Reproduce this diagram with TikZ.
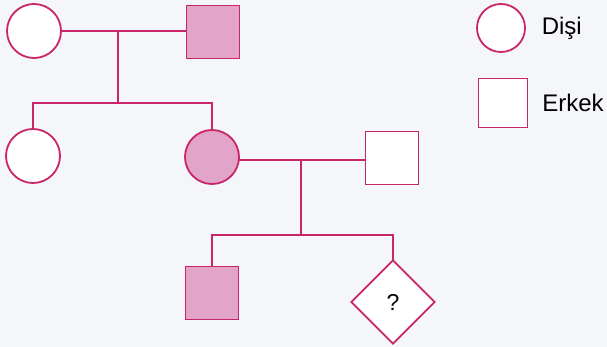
\documentclass[tikz,border=0pt]{standalone}
\usepackage{fontspec}
\setmainfont{Liberation Sans}
\usetikzlibrary{positioning,shapes.geometric}
\definecolor{pedline}{RGB}{200,38,104}
\definecolor{pedfill}{RGB}{226,164,200}
\definecolor{paper}{RGB}{244,246,249}

\begin{document}
\begin{tikzpicture}[x=1pt,y=-1pt,line width=1.8pt,
  fem/.style={draw=pedline,circle,minimum size=54pt,inner sep=0pt,fill=white},
  mal/.style={draw=pedline,rectangle,minimum size=53pt,inner sep=0pt,fill=white},
  unk/.style={draw=pedline,diamond,minimum size=84pt,inner sep=0pt,fill=white,font=\fontsize{23}{26}\selectfont},
  aff/.style={fill=pedfill},
  ln/.style={draw=pedline,line cap=rect},
  lbl/.style={inner sep=0pt,font=\fontsize{24}{27}\selectfont}]
\fill[paper] (0,0) rectangle (607,347);
\useasboundingbox (0,0) rectangle (607,347);
% generation I
\node[fem] (gm) at (34,31) {};
\node[mal,aff] (gf) at (213,32) {};
% generation II
\node[fem] (d1) at (33,156) {};
\node[fem,aff] (d2) at (212,157) {};
\node[mal] (hb) at (392,158) {};
% generation III
\node[mal,aff] (s1) at (212,293) {};
\node[unk] (q) at (393,302) {?};
% legend
\node[fem,minimum size=48pt] (lf) at (501,28) {};
\node[mal,minimum size=49pt] (lm) at (503,103) {};
\node[lbl,right=15pt of lf] (ldisi) {Dişi};
\node[lbl,right=13pt of lm] (lerkek) {Erkek};
% lines
\coordinate (m1) at (118,31);
\coordinate (k1) at (118,103);
\coordinate (m2) at (301,160);
\coordinate (k2) at (301,235);
\draw[ln] (gm.east |- m1) -- (gf.west |- m1);
\draw[ln] (m1) -- (k1);
\draw[ln] (d1.north) -- (d1.north |- k1) -- (d2.north |- k1) -- (d2.north);
\draw[ln] (d2.east |- m2) -- (hb.west |- m2);
\draw[ln] (m2) -- (k2);
\draw[ln] (s1.north) -- (s1.north |- k2) -- (q.north |- k2) -- (q.north);
\end{tikzpicture}
\end{document}
